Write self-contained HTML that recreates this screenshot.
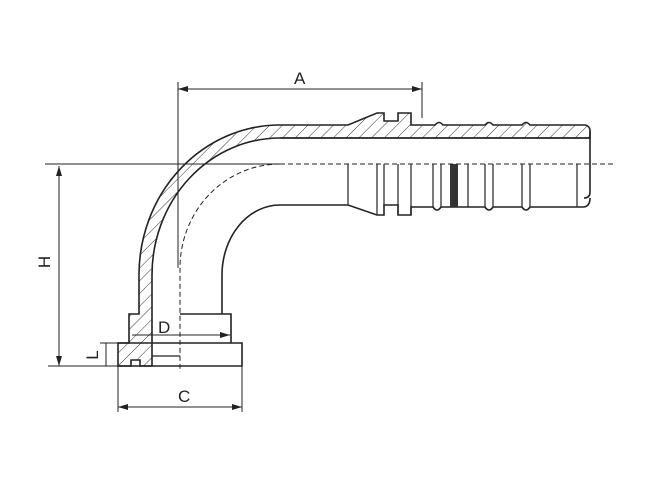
<!DOCTYPE html>
<html><head><style>
html,body{margin:0;padding:0;background:#fff;}
svg{display:block;}
text{font-family:"Liberation Sans",sans-serif;font-size:17px;fill:#222;}
</style></head><body>
<svg width="645" height="486" viewBox="0 0 645 486" xmlns="http://www.w3.org/2000/svg">
<defs>
<pattern id="h" patternUnits="userSpaceOnUse" width="9" height="9" patternTransform="rotate(45)">
<line x1="0" y1="0" x2="0" y2="9" stroke="#333" stroke-width="1"/>
</pattern>
<marker id="ar" markerWidth="10" markerHeight="6" refX="10" refY="3" orient="auto" markerUnits="userSpaceOnUse">
<path d="M0,0 L10,3 L0,6 z" fill="#222"/></marker>
</defs>
<g stroke="#222" fill="none" stroke-width="1.6">
<path fill="url(#h)" d="M139,275 A141,150 0 0 1 280,125 L348,125 L377,113 L384,113 L384,121 L398,121 L398,113 L411,113 L411,125 L435,125 Q439,120 443,125 L485,125 Q489,120 493,125 L522,125 Q526,120 530,125 L585,125 Q590,126 590,131 L590,138 L280,138 A128,137 0 0 0 152,275 L152,366 L140,366 L140,360 L131,360 L131,366 L118,366 L118,343 L129,343 L129,314 L139,314 Z"/>
<line x1="280" y1="138" x2="590" y2="138"/>
<path d="M590,131 L590,192 Q590,198 584,198"/>
<path d="M222,314 L222,275 A58,70 0 0 1 280,205 L348,205 L377,215 L384,215 L384,205 L398,205 L398,215 L411,215 L411,207 L433,207 Q437,213 441,207 L485,207 Q489,213 493,207 L522,207 Q526,213 530,207 L584,207 Q590,206 590,198"/>
<g stroke-width="1.2">
<line x1="348" y1="164" x2="348" y2="205"/>
<line x1="377" y1="164" x2="377" y2="215"/>
<line x1="384" y1="164" x2="384" y2="205"/>
<line x1="398" y1="164" x2="398" y2="215"/>
<line x1="411" y1="164" x2="411" y2="215"/>
<line x1="433" y1="164" x2="433" y2="207"/>
<line x1="441" y1="164" x2="441" y2="207"/>
<line x1="468" y1="164" x2="468" y2="207"/>
<line x1="485" y1="164" x2="485" y2="207"/>
<line x1="493" y1="164" x2="493" y2="207"/>
<line x1="522" y1="164" x2="522" y2="207"/>
<line x1="530" y1="164" x2="530" y2="207"/>
<line x1="577" y1="164" x2="577" y2="207"/>
</g>
<rect x="450" y="164" width="8" height="43" fill="#333" stroke="none"/>
<path d="M180,314 L231,314 L231,343 M118,343 L242,343 L242,366 L118,366"/>
<line x1="152" y1="356" x2="180" y2="356" stroke-width="1.2"/>
<g stroke-width="1" stroke-dasharray="5,3">
<line x1="280" y1="164" x2="615" y2="164"/>
<path d="M280,164 A100,104 0 0 0 180,268 L180,372"/>
</g>
<line x1="45" y1="164" x2="280" y2="164" stroke-width="1"/>
<g stroke-width="1">
<line x1="178" y1="82" x2="178" y2="268"/>
<line x1="422" y1="82" x2="422" y2="118"/>
<line x1="178" y1="89" x2="422" y2="89" marker-end="url(#ar)"/>
<line x1="422" y1="89" x2="178" y2="89" marker-end="url(#ar)"/>
<line x1="48" y1="366" x2="118" y2="366"/>
<line x1="59" y1="166" x2="59" y2="366" marker-end="url(#ar)"/>
<line x1="59" y1="366" x2="59" y2="166" marker-end="url(#ar)"/>
<line x1="100" y1="343" x2="118" y2="343"/>
<line x1="106" y1="343" x2="106" y2="366"/>
<line x1="118" y1="366" x2="118" y2="412"/>
<line x1="242" y1="366" x2="242" y2="412"/>
<line x1="118" y1="407" x2="242" y2="407" marker-end="url(#ar)"/>
<line x1="242" y1="407" x2="118" y2="407" marker-end="url(#ar)"/>
<line x1="132" y1="335" x2="230" y2="335" marker-end="url(#ar)"/>
</g>
</g>
<text x="294" y="84">A</text>
<text x="178" y="402">C</text>
<text x="158" y="333">D</text>
<text transform="translate(50,262) rotate(-90)" text-anchor="middle">H</text>
<text transform="translate(98,355) rotate(-90)" text-anchor="middle" font-size="15">L</text>
</svg>
</body></html>
